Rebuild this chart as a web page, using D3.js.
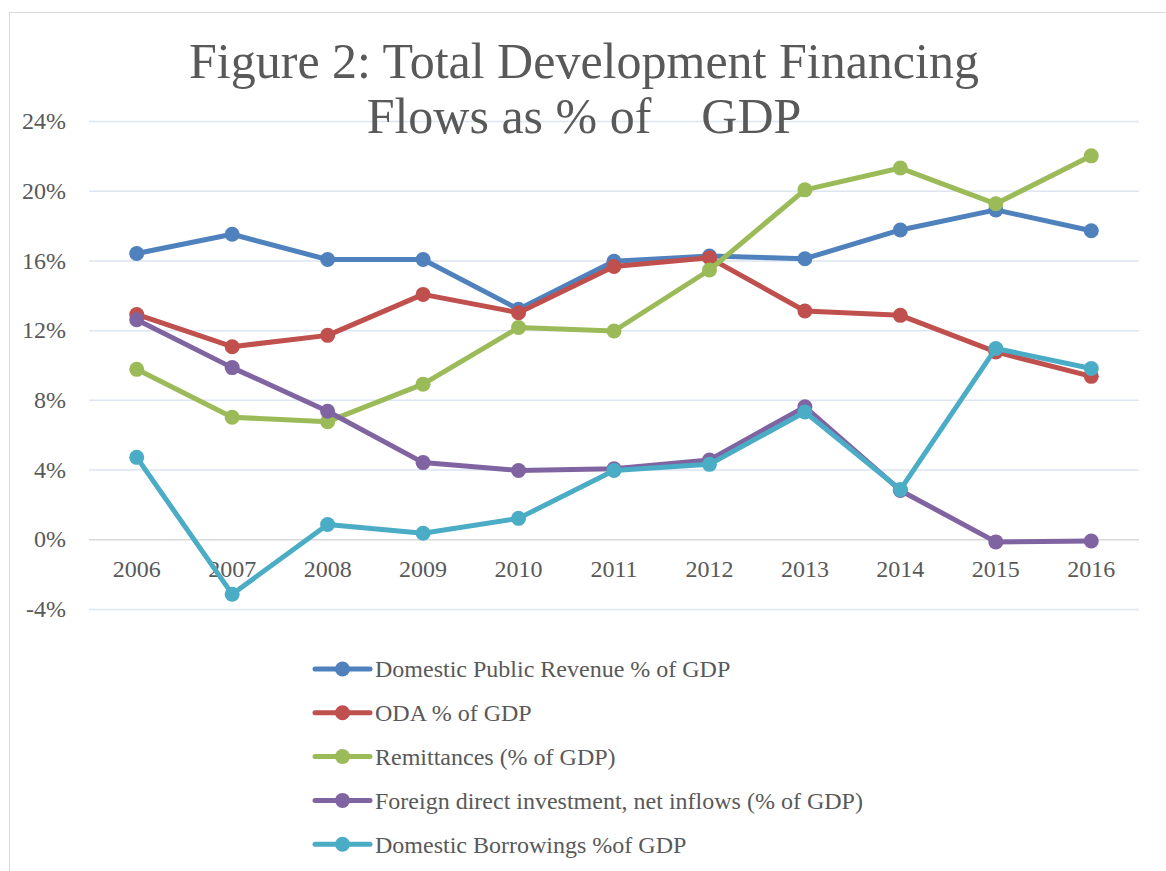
<!DOCTYPE html>
<html>
<head>
<meta charset="utf-8">
<script src="https://cdn.jsdelivr.net/npm/d3@7"></script>
<style>
  body { margin: 0; background: #fff; }
  svg text { font-family: "Liberation Serif", "DejaVu Serif", serif; fill: #595959; }
</style>
</head>
<body>
<svg id="chart"></svg>
<script>
// values, in percent of GDP
const years = ["2006", "2007", "2008", "2009", "2010", "2011", "2012", "2013", "2014", "2015", "2016"];
const revenue = [16.4, 17.5, 16.05, 16.05, 13.2, 15.95, 16.25, 16.1, 17.75, 18.9, 17.7];
const oda = [12.9, 11.05, 11.7, 14.05, 13.0, 15.65, 16.15, 13.1, 12.85, 10.75, 9.35];
const remittances = [9.75, 7.0, 6.75, 8.9, 12.15, 11.95, 15.45, 20.05, 21.3, 19.25, 22.0];
const fdi = [12.6, 9.85, 7.35, 4.4, 3.95, 4.05, 4.55, 7.6, 2.8, -0.15, -0.1];
const borrowings = [4.7, -3.15, 0.85, 0.35, 1.2, 3.95, 4.3, 7.3, 2.85, 10.95, 9.8];
const seriesNames = [
  "Domestic Public Revenue % of GDP",
  "ODA % of GDP",
  "Remittances (% of GDP)",
  "Foreign direct investment, net inflows (% of GDP)",
  "Domestic Borrowings %of GDP"
];
const yTicks = [-4, 0, 4, 8, 12, 16, 20, 24];

const series = [revenue, oda, remittances, fdi, borrowings].map((vals, i) => ({
  name: seriesNames[i],
  values: vals
}));
const colors = ["#4f81bd", "#c0504d", "#9bbb59", "#8064a2", "#4bacc6"];

const W = 1166, H = 871;
const svg = d3.select("#chart").attr("width", W).attr("height", H);

// chart frame
svg.append("rect")
  .attr("x", 9.5).attr("y", 12.5)
  .attr("width", W + 20).attr("height", H + 20)
  .attr("fill", "#fff")
  .attr("stroke", "#d9d9d9");

const plot = { left: 89, right: 1139, top: 121, bottom: 609 };

const x = d3.scaleBand()
  .domain(years)
  .range([plot.left, plot.right]);

const y = d3.scaleLinear()
  .domain([-4, 24])
  .range([plot.bottom, plot.top]);

// gridlines
svg.append("g")
  .attr("class", "grid")
  .attr("transform", `translate(${plot.left},0)`)
  .call(d3.axisLeft(y).tickValues(yTicks).tickSize(-(plot.right - plot.left)).tickFormat(""))
  .call(g => g.select(".domain").remove())
  .call(g => g.selectAll(".tick line")
    .attr("stroke", d => d === 0 ? "#d9d9d9" : "#dce5f1")
    .attr("stroke-width", 1.5));

// y axis labels
svg.append("g")
  .attr("transform", `translate(${plot.left},0)`)
  .call(d3.axisLeft(y).tickValues(yTicks).tickSize(0).tickPadding(23).tickFormat(d => d + "%"))
  .call(g => g.select(".domain").remove())
  .call(g => g.selectAll("text")
    .style("font-size", "24px")
    .attr("fill", "#595959"));

// x axis labels, below the zero line
svg.append("g")
  .attr("transform", `translate(0,${y(0)})`)
  .call(d3.axisBottom(x).tickSize(0).tickPadding(21))
  .call(g => g.select(".domain").remove())
  .call(g => g.selectAll("text")
    .style("font-size", "24px")
    .attr("fill", "#595959"));

const line = d3.line()
  .x((d, i) => x(years[i]) + x.bandwidth() / 2)
  .y(d => y(d));

const lines = svg.append("g");
series.forEach((s, i) => {
  lines.append("path")
    .datum(s.values)
    .attr("fill", "none")
    .attr("stroke", colors[i])
    .attr("stroke-width", 5)
    .attr("stroke-linejoin", "round")
    .attr("d", line);

  lines.selectAll(".dot" + i)
    .data(s.values)
    .enter().append("circle")
    .attr("class", "dot" + i)
    .attr("cx", (d, j) => x(years[j]) + x.bandwidth() / 2)
    .attr("cy", d => y(d))
    .attr("r", 7.5)
    .attr("fill", colors[i]);
});

// title
const title = svg.append("text")
  .attr("x", 584)
  .attr("text-anchor", "middle")
  .style("font-size", "50px")
  .style("white-space", "pre");
title.append("tspan").attr("x", 584).attr("y", 78).text("Figure 2: Total Development Financing");
title.append("tspan").attr("x", 584).attr("y", 133).text("Flows as % of    GDP");

// legend
const legend = svg.append("g")
  .attr("transform", "translate(315,669)");

const item = legend.selectAll("g")
  .data(series)
  .enter().append("g")
  .attr("transform", (d, i) => `translate(0,${i * 43.8})`);

item.append("line")
  .attr("x1", 0).attr("x2", 55)
  .attr("stroke", (d, i) => colors[i])
  .attr("stroke-width", 5)
  .attr("stroke-linecap", "round");

item.append("circle")
  .attr("cx", 27.5)
  .attr("r", 7.5)
  .attr("fill", (d, i) => colors[i]);

item.append("text")
  .attr("x", 60)
  .attr("dy", "0.35em")
  .style("font-size", "24px")
  .text(d => d.name);
</script>
</body>
</html>
